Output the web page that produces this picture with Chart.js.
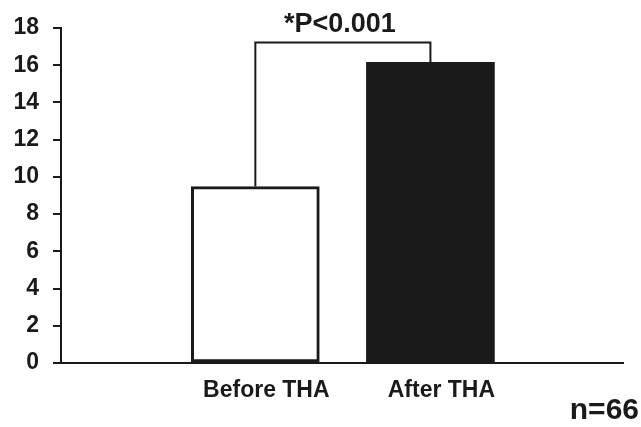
<!DOCTYPE html>
<html>
<head>
<meta charset="utf-8">
<script src="https://cdn.jsdelivr.net/npm/chart.js@4.4.1/dist/chart.umd.min.js"></script>
<style>
    html, body { margin: 0; padding: 0; background: #fff; }
    #wrap { width: 641px; height: 427px; }
</style>
</head>
<body>
<div id="wrap"><canvas id="grafico"></canvas></div>
<script>
const categorias = ['Before THA', 'After THA'];
const posicoes = [1, 2];
const valores = [9.48, 16.15];
const nivelColchete = 17.22;
const ticksY = [0, 2, 4, 6, 8, 10, 12, 14, 16, 18];
const textoP = '*P<0.001';
const textoN = 'n=66';

const preto = '#1a1a1a';
const fonte = '"Liberation Sans", Arial, Helvetica, sans-serif';

// textos soltos: p-valor sobre o colchete e n no canto
const textosPlugin = {
    id: 'textos',
    afterDraw(chart) {
        const { ctx, scales: { x, y } } = chart;
        ctx.save();
        ctx.fillStyle = preto;
        ctx.font = 'bold 27px ' + fonte;
        ctx.textAlign = 'center';
        ctx.textBaseline = 'alphabetic';
        const meio = (x.getPixelForValue(posicoes[0]) + x.getPixelForValue(posicoes[1])) / 2;
        ctx.fillText(textoP, meio - 3, y.getPixelForValue(nivelColchete) - 11);
        ctx.font = 'bold 30px ' + fonte;
        ctx.textAlign = 'right';
        ctx.fillText(textoN, chart.width - 2, chart.height - 8);
        ctx.restore();
    }
};

const ctx = document.getElementById('grafico').getContext('2d');

const chart = new Chart(ctx, {
    type: 'bar',
    data: {
        datasets: [{
            type: 'bar',
            data: posicoes.map((p, i) => ({ x: p, y: valores[i] })),
            backgroundColor: ['#ffffff', preto],
            borderColor: [preto, preto],
            borderWidth: [3, 0],
            borderSkipped: false,
            barThickness: 128,
            order: 2
        }, {
            type: 'line',
            data: [
                { x: posicoes[0], y: valores[0] },
                { x: posicoes[0], y: nivelColchete },
                { x: posicoes[1], y: nivelColchete },
                { x: posicoes[1], y: valores[1] }
            ],
            borderColor: preto,
            borderWidth: 2,
            pointRadius: 0,
            tension: 0,
            fill: false,
            order: 1
        }]
    },
    options: {
        responsive: true,
        maintainAspectRatio: false,
        animation: false,
        layout: {
            padding: { top: 28, right: 18, bottom: 0, left: 0 }
        },
        plugins: {
            legend: { display: false },
            tooltip: { enabled: false }
        },
        scales: {
            x: {
                type: 'linear',
                offset: false,
                min: -0.11,
                max: 3.1,
                afterBuildTicks: scale => {
                    scale.ticks = posicoes.map(v => ({ value: v }));
                },
                afterFit: scale => { scale.height = 64; },
                grid: { offset: false, drawOnChartArea: false, drawTicks: false },
                border: { color: preto, width: 2 },
                ticks: {
                    callback: value => categorias[posicoes.indexOf(value)] || '',
                    font: { family: fonte, size: 23, weight: 'bold' },
                    color: preto,
                    padding: 14,
                    labelOffset: 11,
                    maxRotation: 0,
                    autoSkip: false
                }
            },
            y: {
                min: 0,
                max: 18,
                afterBuildTicks: scale => {
                    scale.ticks = ticksY.map(v => ({ value: v }));
                },
                afterFit: scale => { scale.width = 61; },
                grid: {
                    drawOnChartArea: false,
                    drawTicks: true,
                    tickLength: 8,
                    color: preto,
                    lineWidth: 2
                },
                border: { color: preto, width: 2 },
                ticks: {
                    font: { family: fonte, size: 23, weight: 'bold' },
                    color: preto,
                    padding: 14
                }
            }
        }
    },
    plugins: [textosPlugin]
});
</script>
</body>
</html>
